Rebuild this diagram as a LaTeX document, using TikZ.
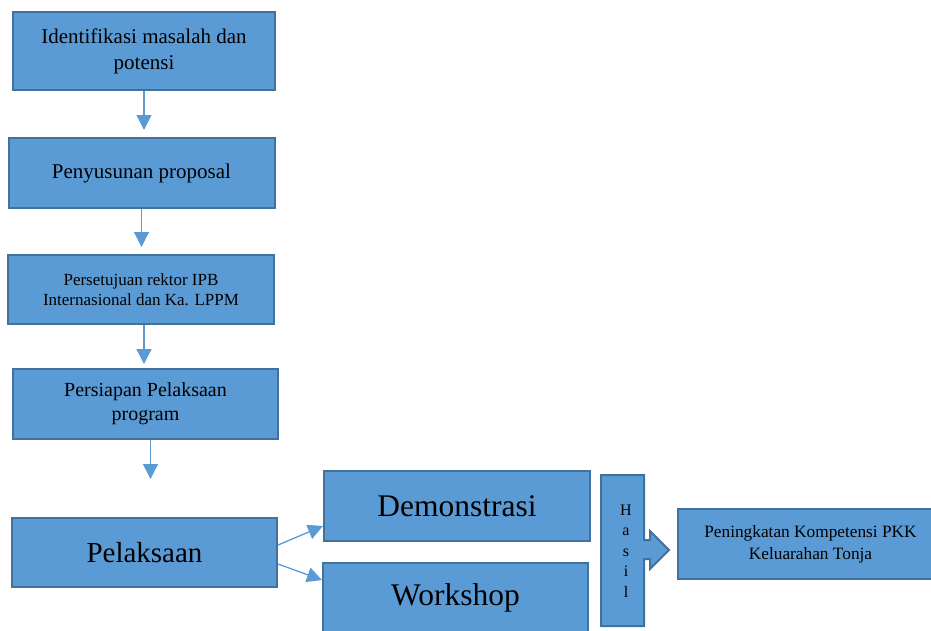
\documentclass[tikz,border=0pt]{standalone}
\usepackage{fontspec}
\setmainfont{Liberation Serif}
\usetikzlibrary{arrows.meta}
\definecolor{boxfill}{HTML}{5B9BD5}
\definecolor{boxline}{HTML}{41719C}

\begin{document}
\begin{tikzpicture}[x=1pt, y=-1pt,
    stepbox/.style={draw=boxline, fill=boxfill, line width=2pt, align=center, inner sep=0pt},
    flow/.style={draw=boxfill, line width=1.3pt, -{Triangle[length=15pt,width=15pt]}}]
% parameters (?)
\def\pagew{931}
\def\pageh{630}
\useasboundingbox (0,0) rectangle (\pagew,\pageh);
\clip (0,0) rectangle (\pagew,\pageh);
% Draw the steps on the left
    \node[stepbox, minimum width=262pt, minimum height=78pt, font=\fontsize{21}{26}\selectfont] (s1) at (144,51) {Identifikasi masalah dan\\potensi};
    \node[stepbox, minimum width=266pt, minimum height=70pt, font=\fontsize{21}{26}\selectfont] (s2) at (141.5,173) {Penyusunan proposal};
    \node[stepbox, minimum width=266pt, minimum height=69pt, font=\fontsize{17}{20}\selectfont] (s3) at (141,289.5) {Persetujuan rektor IPB\\Internasional dan Ka. LPPM};
    \node[stepbox, minimum width=265pt, minimum height=70pt, font=\fontsize{20}{24}\selectfont] (s4) at (145.5,404) {Persiapan Pelaksaan\\program};
    \node[stepbox, minimum width=265pt, minimum height=69pt, font=\fontsize{29}{34}\selectfont] (s5) at (144.5,552.5) {Pelaksaan};
% Draw the arrows down
    \draw[flow, shorten >=7pt] (s1.south) -- (s1.south |- s2.north);
    \draw[flow, shorten >=7pt] (s2.south) -- (s2.south |- s3.north);
    \draw[flow, shorten >=4pt] ([xshift=3pt]s3.south) -- ([xshift=3pt]s3.south |- s4.north);
    \draw[flow, shorten >=38pt] ([xshift=5pt]s4.south) -- ([xshift=5pt]s4.south |- s5.north);
% Draw the two activities
    \node[stepbox, minimum width=266pt, minimum height=70pt, font=\fontsize{31.5}{36}\selectfont] (demo) at (457,506) {Demonstrasi};
    \node[stepbox, minimum width=265pt, minimum height=70pt, font=\fontsize{31.5}{36}\selectfont] (work) at (455.5,598) {Workshop};
    \draw[flow] ([yshift=7.5pt]s5.east) -- ([yshift=-20pt]demo.west);
    \draw[flow] ([yshift=-11.5pt]s5.east) -- ([yshift=18pt]work.west);
% Draw the result callout and the outcome
    \draw[draw=boxline, fill=boxfill, line width=2pt] (601,475) -- (644,475) -- (644,540) -- (650,540) -- (650,531) -- (669,550) -- (650,569) -- (650,559) -- (644,559) -- (644,626) -- (601,626) -- cycle;
    \node[align=center, font=\fontsize{16}{20.5}\selectfont] (hasil) at (626,551) {H\\a\\s\\i\\l};
    \node[stepbox, minimum width=265pt, minimum height=70pt, font=\fontsize{17.3}{22}\selectfont] (outcome) at (810.5,544) {Peningkatan Kompetensi PKK\\Keluarahan Tonja};
\end{tikzpicture}
\end{document}
